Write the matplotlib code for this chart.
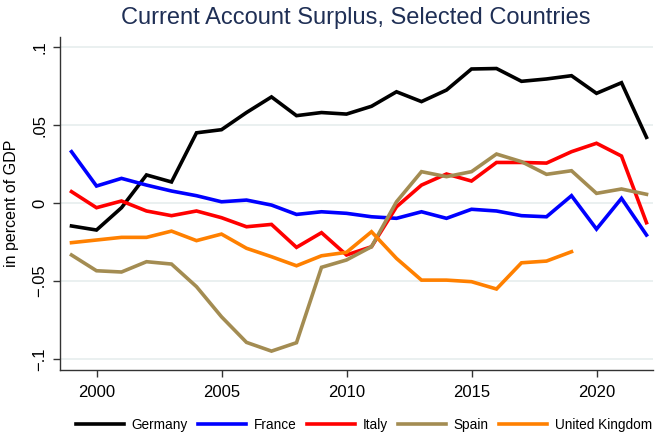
import numpy as np
import matplotlib
matplotlib.use("Agg")
import matplotlib.pyplot as plt

plt.rcParams["font.family"] = ["Liberation Sans", "DejaVu Sans"]

years = list(range(1999, 2023))

germany = [-0.0147, -0.0173, -0.003, 0.018, 0.0135, 0.045, 0.047, 0.058, 0.068, 0.056,
           0.058, 0.057, 0.062, 0.0713, 0.065, 0.0724, 0.0859, 0.0862, 0.078, 0.0795,
           0.0816, 0.0703, 0.0771, 0.0421]
france = [0.0329, 0.0109, 0.0158, 0.0115, 0.0077, 0.0047, 0.0008, 0.0019, -0.0013, -0.0073,
          -0.0056, -0.0066, -0.0088, -0.0098, -0.0056, -0.0098, -0.004, -0.0051, -0.0081,
          -0.0088, 0.0047, -0.0167, 0.003, -0.0205]
italy = [0.0073, -0.003, 0.0013, -0.0051, -0.0081, -0.0051, -0.0094, -0.0152, -0.0137,
         -0.0284, -0.019, -0.0333, -0.028, -0.0024, 0.0115, 0.0186, 0.0141, 0.026, 0.026,
         0.0256, 0.0329, 0.0383, 0.0301, -0.0126]
spain = [-0.0333, -0.0434, -0.0442, -0.0376, -0.0391, -0.0536, -0.0729, -0.0893, -0.0949,
         -0.0895, -0.0412, -0.0365, -0.028, 0.0008, 0.0201, 0.0169, 0.0201, 0.0314, 0.0265,
         0.0184, 0.0207, 0.0062, 0.009, 0.0056]
uk = [-0.0254, -0.0237, -0.022, -0.022, -0.018, -0.0241, -0.0199, -0.029, -0.0344, -0.0402,
      -0.0338, -0.0316, -0.0184, -0.0355, -0.0494, -0.0494, -0.0504, -0.0551, -0.0383,
      -0.0372, -0.0312]

series = [
    ("Germany", germany, "black"),
    ("France", france, "#0000ff"),
    ("Italy", italy, "#ff0000"),
    ("Spain", spain, "#a38c52"),
    ("United Kingdom", uk, "#ff8000"),
]

fig = plt.figure(figsize=(6.6, 4.32), dpi=100)
ax = fig.add_axes([60 / 660, 62 / 432, 593 / 660, 333 / 432])

for name, vals, col in series:
    ax.plot(years[:len(vals)], vals, color=col, lw=2.6, label=name, solid_joinstyle="miter")

ax.set_xlim(1998.54, 2022.26)
ax.set_ylim(-0.107, 0.1064)
ax.set_xticks([2000, 2005, 2010, 2015, 2020])
yt = [-0.1, -0.05, 0, 0.05, 0.1]
ax.set_yticks(yt, ["\u2212.1", "\u2212.05", "0", ".05", ".1"], rotation=90, va="center")
ax.grid(axis="y", color="#e6eeee", lw=1.2)
ax.set_axisbelow(True)
for s in ["top", "right"]:
    ax.spines[s].set_visible(False)
for s in ["left", "bottom"]:
    ax.spines[s].set_color("#333333")
    ax.spines[s].set_linewidth(1.0)
ax.tick_params(axis="both", length=5, width=1, color="#333333", labelsize=12)
ax.tick_params(axis="x", pad=6)
ax.tick_params(axis="y", pad=4)
ax.set_ylabel("in percent of GDP", fontsize=11.5, labelpad=10)

fig.text(356 / 660, 1 - 18 / 432, "Current Account Surplus, Selected Countries",
         ha="center", va="center", fontsize=17, color="#1f2f55")

fig.legend(loc="center", bbox_to_anchor=(364 / 660, 1 - 425 / 432), ncols=5, frameon=False,
           fontsize=9.8, handlelength=3.5, handletextpad=0.6, columnspacing=0.75,
           borderaxespad=0)

fig.savefig("out.png", dpi=100)
